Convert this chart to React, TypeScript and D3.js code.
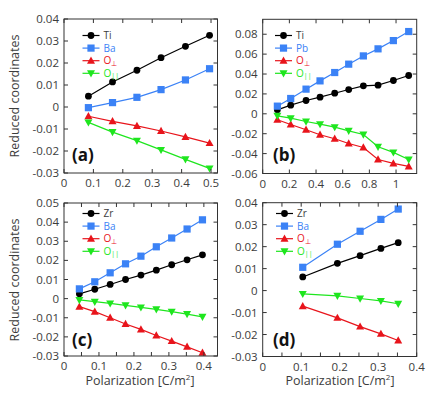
import React from "react";
import * as d3 from "d3";

const aX = [0.083, 0.165, 0.248, 0.33, 0.413, 0.495];
const aTi = [0.0049, 0.0114, 0.0167, 0.0224, 0.0276, 0.0326];
const aBa = [-0.0003, 0.002, 0.0044, 0.0079, 0.0123, 0.0174];
const aOperp = [-0.0042, -0.0065, -0.0086, -0.0109, -0.0136, -0.0164];
const aOpar = [-0.007, -0.0114, -0.0153, -0.0195, -0.0238, -0.0279];

const bX = [0.11, 0.21, 0.325, 0.43, 0.54, 0.645, 0.755, 0.865, 0.98, 1.095];
const bTi = [0.004, 0.0087, 0.0134, 0.0167, 0.0207, 0.0244, 0.0281, 0.0288, 0.0335, 0.0385];
const bPb = [0.0077, 0.0154, 0.0248, 0.0331, 0.0415, 0.0499, 0.0582, 0.0653, 0.0736, 0.0827];
const bOperp = [-0.006, -0.0107, -0.016, -0.0211, -0.0251, -0.0298, -0.0338, -0.0459, -0.0499, -0.0529];
const bOpar = [-0.002, -0.0044, -0.0077, -0.0104, -0.0134, -0.0171, -0.0208, -0.0331, -0.0388, -0.0459];

const cX = [0.044, 0.088, 0.132, 0.176, 0.22, 0.264, 0.308, 0.352, 0.396];
const cZr = [0.0025, 0.0049, 0.0074, 0.01, 0.0123, 0.0149, 0.0177, 0.0203, 0.0229];
const cBa = [0.0051, 0.0088, 0.0135, 0.0182, 0.0222, 0.0271, 0.0317, 0.0364, 0.0412];
const cOperp = [-0.0042, -0.0068, -0.01, -0.0133, -0.0161, -0.0193, -0.0222, -0.0252, -0.0283];
const cOpar = [-0.0007, -0.0016, -0.0025, -0.0035, -0.0046, -0.0056, -0.0068, -0.0081, -0.0095];

const dX = [0.104, 0.194, 0.253, 0.307, 0.352];
const dZr = [0.0062, 0.0124, 0.0159, 0.0192, 0.0218];
const dBa = [0.0106, 0.0211, 0.027, 0.0324, 0.0371];
const dOperp = [-0.0071, -0.0124, -0.0164, -0.0197, -0.0227];
const dOpar = [-0.0015, -0.0024, -0.0036, -0.0047, -0.006];

const yTicksA = [-0.03, -0.02, -0.01, 0, 0.01, 0.02, 0.03, 0.04];
const yTicksB = [-0.06, -0.04, -0.02, 0, 0.02, 0.04, 0.06, 0.08];
const yTicksC = [-0.03, -0.02, -0.01, 0, 0.01, 0.02, 0.03, 0.04, 0.05];
const yTicksD = [-0.03, -0.02, -0.01, 0, 0.01, 0.02, 0.03, 0.04];
const xTicksA = [0, 0.1, 0.2, 0.3, 0.4, 0.5];
const xTicksB = [0, 0.2, 0.4, 0.6, 0.8, 1];
const xTicksC = [0, 0.1, 0.2, 0.3, 0.4];
const xTicksD = [0, 0.1, 0.2, 0.3, 0.4];
const xMinorC = [0.05, 0.15, 0.25, 0.35];
const xMinorD = [0.05, 0.15, 0.25, 0.35];

const BLACK = "#000000";
const BLUE = "#3b82f6";
const RED = "#e8141b";
const GREEN = "#1ee61e";
const TXT = "#3c3c3c";
const FONT = "'Open Sans', sans-serif";

type Series = { name: string; sub?: string; color: string; marker: string; values: number[] };

function Marker({ type, x, y, color }: { type: string; x: number; y: number; color: string }) {
  if (type === "circle") return <circle cx={x} cy={y} r={3.4} fill={color} />;
  if (type === "square") return <rect x={x - 3.6} y={y - 3.6} width={7.2} height={7.2} fill={color} />;
  if (type === "up")
    return <path d={`M${x},${y - 4.2}L${x + 4},${y + 3}L${x - 4},${y + 3}Z`} fill={color} />;
  return <path d={`M${x},${y + 4.2}L${x + 4},${y - 3}L${x - 4},${y - 3}Z`} fill={color} />;
}

function fmt(v: number) {
  if (Math.abs(v) < 1e-9) return "0";
  return String(+v.toFixed(3));
}

function Panel(props: {
  xs: number[];
  series: Series[];
  xDomain: [number, number];
  yDomain: [number, number];
  left: number;
  right: number;
  top: number;
  bottom: number;
  xTicks: number[];
  xMinor?: number[];
  yTicks: number[];
  label: string;
  legendX: number;
  legendY: number;
  legendStep: number;
  labelX: number;
  labelY: number;
}) {
  const { xs, series, left, right, top, bottom } = props;
  const x = d3.scaleLinear().domain(props.xDomain).range([left, right]);
  const y = d3.scaleLinear().domain(props.yDomain).range([bottom, top]);
  const tl = 4;
  const allX = [...props.xTicks, ...(props.xMinor || [])];
  return (
    <g>
      {series.map((s) => {
        const line = d3
          .line<number>()
          .x((_, i) => x(xs[i]))
          .y((v) => y(v));
        return (
          <g key={s.name + (s.sub || "")}>
            <path d={line(s.values) || ""} fill="none" stroke={s.color} strokeWidth={1.2} />
            {s.values.map((v, i) => (
              <Marker key={i} type={s.marker} x={x(xs[i])} y={y(v)} color={s.color} />
            ))}
          </g>
        );
      })}
      <rect x={left} y={top} width={right - left} height={bottom - top} fill="none" stroke="#333" strokeWidth={1} />
      {allX.map((t) => (
        <g key={"xt" + t}>
          <line x1={x(t)} x2={x(t)} y1={bottom} y2={bottom - tl} stroke="#333" />
          <line x1={x(t)} x2={x(t)} y1={top} y2={top + tl} stroke="#333" />
        </g>
      ))}
      {props.yTicks.map((t) => (
        <g key={"yt" + t}>
          <line x1={left} x2={left + tl} y1={y(t)} y2={y(t)} stroke="#333" />
          <line x1={right} x2={right - tl} y1={y(t)} y2={y(t)} stroke="#333" />
          <text x={left - 5} y={y(t)} dy="0.35em" textAnchor="end" fontSize={11.5} fill={TXT} fontFamily={FONT}>
            {fmt(t)}
          </text>
        </g>
      ))}
      {props.xTicks.map((t) => (
        <text key={"xl" + t} x={x(t)} y={bottom + 14} textAnchor="middle" fontSize={11.5} fill={TXT} fontFamily={FONT}>
          {fmt(t)}
        </text>
      ))}
      {series.map((s, i) => {
        const ly = props.legendY + i * props.legendStep;
        const lx = props.legendX;
        return (
          <g key={"lg" + i}>
            <line x1={lx} x2={lx + 17} y1={ly} y2={ly} stroke={s.color} strokeWidth={1.2} />
            <Marker type={s.marker} x={lx + 8.5} y={ly} color={s.color} />
            <text x={lx + 21} y={ly} dy="0.35em" fontSize={10} fill={s.color === BLACK ? TXT : s.color} fontFamily={FONT}>
              {s.name}
              {s.sub ? (
                <tspan dy="1.5" fontSize={7}>
                  {s.sub}
                </tspan>
              ) : null}
            </text>
          </g>
        );
      })}
      <text x={props.labelX} y={props.labelY} fontSize={17} fontWeight="bold" fill="#111" fontFamily={FONT}>
        {props.label}
      </text>
    </g>
  );
}

export default function App() {
  const mk = (n1: string, v1: number[], n2: string, v2: number[], v3: number[], v4: number[]): Series[] => [
    { name: n1, color: BLACK, marker: "circle", values: v1 },
    { name: n2, color: BLUE, marker: "square", values: v2 },
    { name: "O", sub: "⊥", color: RED, marker: "up", values: v3 },
    { name: "O", sub: "||", color: GREEN, marker: "down", values: v4 },
  ];
  return (
    <svg width={436} height={396} style={{ position: "absolute", left: 0, top: 0, background: "#fff" }}>
      <Panel
        xs={aX}
        series={mk("Ti", aTi, "Ba", aBa, aOperp, aOpar)}
        xDomain={[0, 0.522]}
        yDomain={[-0.03, 0.04]}
        left={64}
        right={217.5}
        top={19}
        bottom={173}
        xTicks={xTicksA}
        yTicks={yTicksA}
        label="(a)"
        legendX={82.5}
        legendY={35.5}
        legendStep={12.6}
        labelX={72}
        labelY={161}
      />
      <Panel
        xs={bX}
        series={mk("Ti", bTi, "Pb", bPb, bOperp, bOpar)}
        xDomain={[0, 1.155]}
        yDomain={[-0.06, 0.095]}
        left={262.7}
        right={416.7}
        top={19.3}
        bottom={173.5}
        xTicks={xTicksB}
        yTicks={yTicksB}
        label="(b)"
        legendX={275}
        legendY={35.5}
        legendStep={12.6}
        labelX={273}
        labelY={161}
      />
      <Panel
        xs={cX}
        series={mk("Zr", cZr, "Ba", cBa, cOperp, cOpar)}
        xDomain={[0, 0.439]}
        yDomain={[-0.03, 0.05]}
        left={64}
        right={217.5}
        top={203}
        bottom={356}
        xTicks={xTicksC}
        xMinor={xMinorC}
        yTicks={yTicksC}
        label="(c)"
        legendX={82.5}
        legendY={213.5}
        legendStep={12.6}
        labelX={72}
        labelY={346}
      />
      <Panel
        xs={dX}
        series={mk("Zr", dZr, "Ba", dBa, dOperp, dOpar)}
        xDomain={[0, 0.4]}
        yDomain={[-0.03, 0.04]}
        left={262.7}
        right={416.7}
        top={202.7}
        bottom={356.5}
        xTicks={xTicksD}
        xMinor={xMinorD}
        yTicks={yTicksD}
        label="(d)"
        legendX={276}
        legendY={213.5}
        legendStep={12.6}
        labelX={273}
        labelY={346}
      />
      <text transform="translate(19,96) rotate(-90)" textAnchor="middle" fontSize={12.5} fill={TXT} fontFamily={FONT}>
        Reduced coordinates
      </text>
      <text transform="translate(19,280) rotate(-90)" textAnchor="middle" fontSize={12.5} fill={TXT} fontFamily={FONT}>
        Reduced coordinates
      </text>
      <text x={140} y={385} textAnchor="middle" fontSize={12.5} fill={TXT} fontFamily={FONT}>
        Polarization [C/m<tspan dy="-5" fontSize={8}>2</tspan>
        <tspan dy="5">]</tspan>
      </text>
      <text x={340} y={385} textAnchor="middle" fontSize={12.5} fill={TXT} fontFamily={FONT}>
        Polarization [C/m<tspan dy="-5" fontSize={8}>2</tspan>
        <tspan dy="5">]</tspan>
      </text>
    </svg>
  );
}
